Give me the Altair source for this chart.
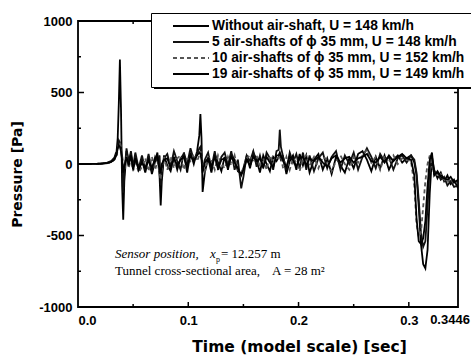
import altair as alt
import pandas as pd

# Sampling instants (s), shared by all four pressure histories
T = [
    0.000, 0.010, 0.020, 0.026, 0.030, 0.033, 0.035, 0.036, 0.037, 0.038,
    0.039, 0.040, 0.041, 0.042, 0.044, 0.046, 0.048, 0.050, 0.052, 0.055,
    0.058, 0.061, 0.064, 0.067, 0.070, 0.072, 0.074, 0.075, 0.076, 0.078,
    0.081, 0.084, 0.087, 0.090, 0.093, 0.096, 0.099, 0.102, 0.105, 0.108,
    0.110, 0.111, 0.112, 0.113, 0.115, 0.118, 0.121, 0.124, 0.127, 0.130,
    0.133, 0.136, 0.139, 0.142, 0.145, 0.148, 0.150, 0.153, 0.156, 0.159,
    0.162, 0.165, 0.168, 0.171, 0.174, 0.177, 0.180, 0.182, 0.183, 0.184,
    0.186, 0.189, 0.192, 0.195, 0.198, 0.201, 0.204, 0.207, 0.210, 0.214,
    0.218, 0.222, 0.226, 0.230, 0.234, 0.238, 0.242, 0.246, 0.250, 0.254,
    0.258, 0.262, 0.266, 0.270, 0.274, 0.278, 0.282, 0.286, 0.290, 0.294,
    0.298, 0.302, 0.305, 0.307, 0.309, 0.311, 0.313, 0.315, 0.317, 0.319,
    0.321, 0.323, 0.326, 0.329, 0.332, 0.335, 0.338, 0.341, 0.3446,
]

# Pressure (Pa) without air-shaft
P_NONE = [
    0, 0, 2, 8, 20, 45, 90, 180, 420, 730,
    380, -150, -390, -120, 90, 20, 70, -30, 50, -40,
    30, -60, 40, -70, 20, 80, -90, -290, -120, 60,
    -10, -50, 50, -40, 40, 70, -60, 80, 0, 90,
    200, 350, 180, -195, -60, 40, -60, 70, 10, -50,
    50, -40, 70, 30, -50, -70, -30, 60, -30, 80,
    30, -60, 60, 0, -50, 50, 20, 50, 70, 30,
    50, -70, 20, 60, -40, 70, -10, 60, -60, 30,
    70, -40, 40, -70, 50, -10, -60, 40, -30, 70,
    90, 30, -50, 50, -30, 60, -40, 30, 60, 10,
    40, 60, 10, -80, -300, -560, -700, -730, -600, -200,
    50, -40, -100, -60, -120, -80, -140, -110, -170,
]

# Pressure (Pa) with 5 air-shafts
P_5 = [
    0, 0, 2, 6, 15, 35, 70, 120, 165, 150,
    100, 40, -200, -60, 110, 10, 90, -20, 80, -30,
    60, -40, 70, -50, 50, 20, 60, -150, -60, 40,
    70, -20, 90, 20, -40, 80, 0, 110, 30, 70,
    110, 120, 60, -40, 30, 80, -30, 90, -40, 50,
    80, -10, 90, -40, 30, -170, -90, 60, 20, 90,
    -20, 60, -30, 80, 40, -40, 90, 100, 240, 120,
    50, -40, 80, 10, 70, -30, 80, -40, 60, -50,
    40, 80, -30, 50, 90, -40, 60, 0, 80, -40,
    50, 110, 50, -30, 70, 20, 50, -40, 40, 60,
    10, 60, 30, -60, -250, -480, -580, -540, -300, -20,
    20, -70, -60, -110, -90, -150, -120, -160, -150,
]

# Pressure (Pa) with 10 air-shafts
P_10 = [
    0, 0, 1, 5, 12, 30, 60, 100, 140, 150,
    120, 60, 10, -40, 60, -30, 40, -50, 30, -60,
    -20, 40, -50, 50, -40, 20, -60, -110, -30, 50,
    -40, 50, -30, 40, 60, -40, 50, 20, 70, 20,
    60, 90, 50, 0, -50, 50, 30, -40, 60, 0,
    -30, 50, -10, 60, -40, -60, -30, 40, 60, 10,
    60, -20, 40, -40, 60, 10, 50, 40, 60, 50,
    -30, 50, -40, 40, 10, -50, 40, 60, -10, 50,
    -30, 50, 30, -50, 20, 60, 0, -40, 50, 10,
    60, 100, 10, 50, -40, 60, 10, 60, 0, 40,
    30, 20, -150, -420, -510, -480, -300, -120, 0, 60,
    -20, -60, -90, -70, -110, -130, -100, -140, -120,
]

# Pressure (Pa) with 19 air-shafts
P_19 = [
    0, 0, 1, 6, 14, 32, 65, 110, 130, 120,
    90, 30, -60, -20, 50, -10, 60, -40, 40, -40,
    10, -30, 30, -30, 40, 50, -40, -60, 0, 30,
    40, -30, 40, -10, 30, 50, -20, 60, 20, 60,
    80, 70, 30, -60, 10, 40, -20, 50, -30, 30,
    40, -20, 50, 10, -30, -80, -40, 30, -10, 50,
    20, 40, -20, 50, 10, -20, 60, 60, 80, 60,
    20, -20, 50, 30, -20, 40, 50, -10, 40, 20,
    50, 10, -20, 40, 60, 10, 40, 50, 10, 40,
    50, 70, 20, 10, 50, 10, 60, 20, 50, 70,
    40, 30, -80, -380, -540, -560, -520, -400, -150, 30,
    80, -80, -50, -90, -100, -110, -90, -130, -110,
]

SERIES = [
    "Without air-shaft,  U = 148 km/h",
    "\u20075 air-shafts of \u03d5  35 mm, U = 148 km/h",
    "10 air-shafts of \u03d5  35 mm, U = 152 km/h",
    "19 air-shafts of \u03d5  35 mm, U = 149 km/h",
]

X_TICKS = [0.0, 0.1, 0.2, 0.3]
X_END = [0.3446]
X_END_LABELS = ["0.3446"]
X_MAJOR_IN = [0.1, 0.2, 0.3]
X_MINOR_IN = [0.05, 0.15, 0.25]
Y_TICKS = [-1000, -500, 0, 500, 1000]
Y_MINOR_IN = [-750, -250, 250, 750]

rows = []
for name, vals in zip(SERIES, [P_NONE, P_5, P_10, P_19]):
    for i, (t, p) in enumerate(zip(T, vals)):
        rows.append({"series": name, "t": t, "p": p, "i": i})
df = pd.DataFrame(rows)

W, H = 380, 286
xs = alt.Scale(domain=[0, 0.3446], nice=False, zero=False)
ys = alt.Scale(domain=[-1000, 1000], nice=False, zero=False)

SANS = "Liberation Sans"
SERIF = "Liberation Serif"

X_AXIS = alt.Axis(
    values=X_TICKS, format=".1f",
    ticks=False, domain=False, grid=False, labelOverlap=False,
    labelFont=SANS, labelFontWeight="bold", labelFontSize=13,
    labelColor="black", labelPadding=7,
    title="Time (model scale) [sec]", titleFont="DejaVu Sans",
    titleFontSize=15.5, titleFontWeight="bold", titleColor="black",
    titleX=221, titleY=39, titleAlign="center", titleBaseline="middle",
)
Y_AXIS = alt.Axis(
    values=Y_TICKS, labelExpr="'' + datum.value",
    ticks=False, domain=False, grid=False, labelOverlap=False,
    labelFont=SANS, labelFontWeight="bold", labelFontSize=13,
    labelColor="black", labelPadding=6,
    title="Pressure [Pa]", titleFont="DejaVu Sans",
    titleFontSize=14, titleFontWeight="bold", titleColor="black",
    titleX=-61, titleY=153, titleAlign="center", titleBaseline="middle",
)

legend = alt.Legend(
    title=None, orient="none", legendX=73, legendY=-8,
    symbolType="M-3,0H3", symbolSize=144, symbolStrokeWidth=1.8,
    symbolFillColor="transparent", symbolOffset=27,
    labelOffset=14, labelFont=SANS, labelFontWeight="bold",
    labelFontSize=13.8, labelColor="black", labelLimit=500,
    rowPadding=2, padding=6, strokeColor="black", fillColor="white",
)

lines = alt.Chart(df).mark_line(strokeWidth=1.8, clip=True).encode(
    x=alt.X("t:Q", scale=xs, axis=X_AXIS),
    y=alt.Y("p:Q", scale=ys, axis=Y_AXIS),
    color=alt.Color("series:N", scale=alt.Scale(
        domain=SERIES, range=["#000000", "#111111", "#555555", "#000000"]),
        legend=legend),
    strokeDash=alt.StrokeDash("series:N", scale=alt.Scale(
        domain=SERIES, range=[[1, 0], [1, 0], [4, 3], [1, 0]]),
        legend=legend),
    order="i:Q",
)

# label for the end of the time axis, nudged left so it stays on the page
end_label = alt.Chart(pd.DataFrame({"t": X_END, "s": X_END_LABELS})).mark_text(
    font=SANS, fontWeight="bold", fontSize=13, color="black",
    align="center", baseline="top", dx=-8).encode(
    x=alt.X("t:Q", scale=xs, axis=X_AXIS), y=alt.value(H + 7), text="s:N")

# drop shadow under the legend box
shadow = alt.Chart(pd.DataFrame({"k": [0]})).mark_rect(color="black").encode(
    x=alt.value(76), x2=alt.value(430), y=alt.value(-5), y2=alt.value(68)
)

# plot frame
frame = alt.Chart(pd.DataFrame({"k": [0]})).mark_rect(
    fill="transparent", stroke="black", strokeWidth=1.8).encode(
    x=alt.value(0), x2=alt.value(W), y=alt.value(0), y2=alt.value(H)
)

# inward tick marks on all four sides of the frame
def ticks_y(vals, x0, x1):
    return alt.Chart(pd.DataFrame({"p": vals})).mark_rule(
        color="black", strokeWidth=1.5).encode(
        y=alt.Y("p:Q", scale=ys, axis=Y_AXIS), x=alt.value(x0), x2=alt.value(x1))

def ticks_x(vals, y0, y1):
    return alt.Chart(pd.DataFrame({"t": vals})).mark_rule(
        color="black", strokeWidth=1.5).encode(
        x=alt.X("t:Q", scale=xs, axis=X_AXIS), y=alt.value(y0), y2=alt.value(y1))

tick_layers = [
    ticks_y(Y_TICKS, 0, 6), ticks_y(Y_MINOR_IN, 0, 3),
    ticks_y(Y_TICKS + Y_MINOR_IN, W - 4, W),
    ticks_x(X_MAJOR_IN, H, H - 5), ticks_x(X_MINOR_IN, H, H - 3),
    ticks_x(X_MAJOR_IN, 0, 5), ticks_x(X_MINOR_IN, 0, 3),
]

def note(text, x, y, size=13, style="normal"):
    return alt.Chart(pd.DataFrame({"s": [text]})).mark_text(
        font=SERIF, fontSize=size, fontStyle=style, color="black",
        align="left", baseline="alphabetic").encode(
        text="s:N", x=alt.value(x), y=alt.value(y))

notes = [
    note("Sensor position,", 37, 237, style="italic"),
    note("x", 132, 237, style="italic"),
    note("p", 138, 241, size=8),
    note("= 12.257 m", 143, 237),
    note("Tunnel cross-sectional area,", 37, 254),
    note("A = 28 m\u00b2", 194, 254),
]

chart = alt.layer(shadow, lines, frame, end_label, *tick_layers, *notes).properties(
    width=W, height=H,
    autosize=alt.AutoSizeParams(type="none"),
    padding={"left": 78, "top": 21, "right": 13, "bottom": 48},
).configure_view(stroke=None).configure(background="white")

chart.save("out.html", embed_options={"renderer": "svg", "actions": False})
